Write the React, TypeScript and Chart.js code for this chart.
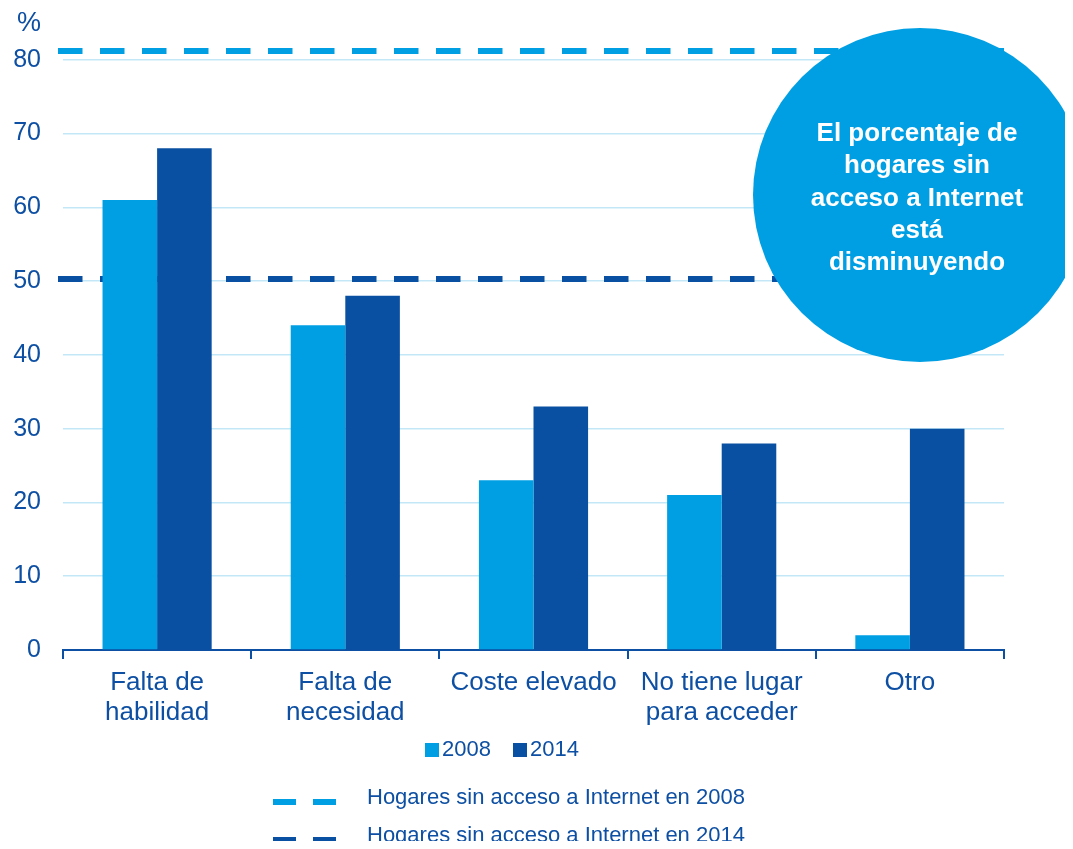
import React, { useEffect, useRef } from "react";
import { Chart, registerables } from "chart.js";

Chart.register(...registerables);

const categories: string[][] = [
  ["Falta de", "habilidad"],
  ["Falta de", "necesidad"],
  ["Coste elevado"],
  ["No tiene lugar", "para acceder"],
  ["Otro"],
];
const values2008: number[] = [61, 44, 23, 21, 2];
const values2014: number[] = [68, 48, 33, 28, 30];
const noAccessValues: number[] = [81.2, 50.3];
const seriesLabels = ["2008", "2014"];
const lineLabels = ["Hogares sin acceso a Internet en 2008", "Hogares sin acceso a Internet en 2014"];
const calloutLines = ["El porcentaje de", "hogares sin", "acceso a Internet", "está", "disminuyendo"];
const yTickValues = [0, 10, 20, 30, 40, 50, 60, 70, 80];

const LIGHT = "#009fe3";
const DARK = "#0a50a2";
const TEXT = "#0d4fa3";
const GRID = "#c3e7f7";
const FONT = "'Liberation Sans', Arial, sans-serif";
const lineColors = [LIGHT, DARK];

const overlayPlugin = {
  id: "overlay",
  beforeDatasetsDraw(chart: any) {
    const ctx = chart.ctx;
    const y = chart.scales.y;
    const { left, right } = chart.chartArea;
    ctx.save();
    noAccessValues.forEach((v, i) => {
      const py = y.getPixelForValue(v);
      ctx.strokeStyle = lineColors[i];
      ctx.lineWidth = 6;
      ctx.setLineDash([24.5, 17.5]);
      ctx.beginPath();
      ctx.moveTo(left - 5, py);
      ctx.lineTo(right, py);
      ctx.stroke();
    });
    ctx.restore();
  },
  afterDatasetsDraw(chart: any) {
    const ctx = chart.ctx;
    ctx.save();
    ctx.fillStyle = LIGHT;
    ctx.beginPath();
    ctx.arc(912, 187, 167, 0, Math.PI * 2);
    ctx.fill();
    ctx.fillStyle = "#ffffff";
    ctx.font = `bold 26px ${FONT}`;
    ctx.textAlign = "center";
    ctx.textBaseline = "middle";
    calloutLines.forEach((t, i) => ctx.fillText(t, 909, 126 + i * 32.3));
    ctx.restore();
  },
  afterDraw(chart: any) {
    const ctx = chart.ctx;
    const ds = chart.data.datasets;
    ctx.save();
    ctx.fillStyle = TEXT;
    ctx.textBaseline = "middle";
    ctx.textAlign = "left";
    ctx.font = `27px ${FONT}`;
    ctx.fillText("%", 9, 16);
    ctx.font = `22px ${FONT}`;
    const barItems = [
      { x: 417, color: ds[0].backgroundColor, label: ds[0].label },
      { x: 505, color: ds[1].backgroundColor, label: ds[1].label },
    ];
    barItems.forEach((it) => {
      ctx.fillStyle = it.color;
      ctx.fillRect(it.x, 735, 14, 14);
      ctx.fillStyle = TEXT;
      ctx.fillText(it.label, it.x + 17, 742);
    });
    const lineItems = [
      { y: 794, color: lineColors[0], label: lineLabels[0] },
      { y: 832, color: lineColors[1], label: lineLabels[1] },
    ];
    lineItems.forEach((it) => {
      ctx.strokeStyle = it.color;
      ctx.lineWidth = 6;
      ctx.setLineDash([23, 17]);
      ctx.beginPath();
      ctx.moveTo(265, it.y);
      ctx.lineTo(329, it.y);
      ctx.stroke();
      ctx.setLineDash([]);
      ctx.fillStyle = TEXT;
      ctx.fillText(it.label, 359, it.y - 4);
    });
    ctx.restore();
  },
};

export default function App() {
  const ref = useRef<HTMLCanvasElement>(null);
  useEffect(() => {
    if (!ref.current) return;
    const chart = new Chart(ref.current, {
      type: "bar",
      data: {
        labels: categories,
        datasets: [
          { label: seriesLabels[0], data: values2008, backgroundColor: LIGHT, categoryPercentage: 0.58, barPercentage: 1.0 },
          { label: seriesLabels[1], data: values2014, backgroundColor: DARK, categoryPercentage: 0.58, barPercentage: 1.0 },
        ],
      },
      options: {
        animation: false,
        responsive: false,
        layout: { padding: { left: 0, right: 61, top: 5, bottom: 0 } },
        plugins: { legend: { display: false }, tooltip: { enabled: false } },
        scales: {
          x: {
            type: "category",
            offset: true,
            grid: { drawOnChartArea: false, drawTicks: true, tickLength: 9, color: TEXT, lineWidth: 2, offset: true },
            border: { display: true, color: TEXT, width: 2 },
            ticks: { color: TEXT, font: { family: FONT, size: 26, lineHeight: "30px" as any }, padding: 9, maxRotation: 0, autoSkip: false },
            afterFit: (s: any) => { s.height = 191; },
          },
          y: {
            min: 0,
            max: 82,
            afterBuildTicks: (s: any) => { s.ticks = yTickValues.map((v) => ({ value: v })); },
            grid: { color: GRID, lineWidth: 1.5, drawTicks: false },
            border: { display: false },
            ticks: { color: TEXT, font: { family: FONT, size: 25 }, padding: 22 },
            afterFit: (s: any) => { s.width = 55; },
          },
        },
      },
      plugins: [overlayPlugin],
    });
    return () => chart.destroy();
  }, []);
  return (
    <div style={{ width: 1057, height: 833 }}>
      <canvas ref={ref} width={1057} height={833} style={{ display: "block" }} />
    </div>
  );
}
